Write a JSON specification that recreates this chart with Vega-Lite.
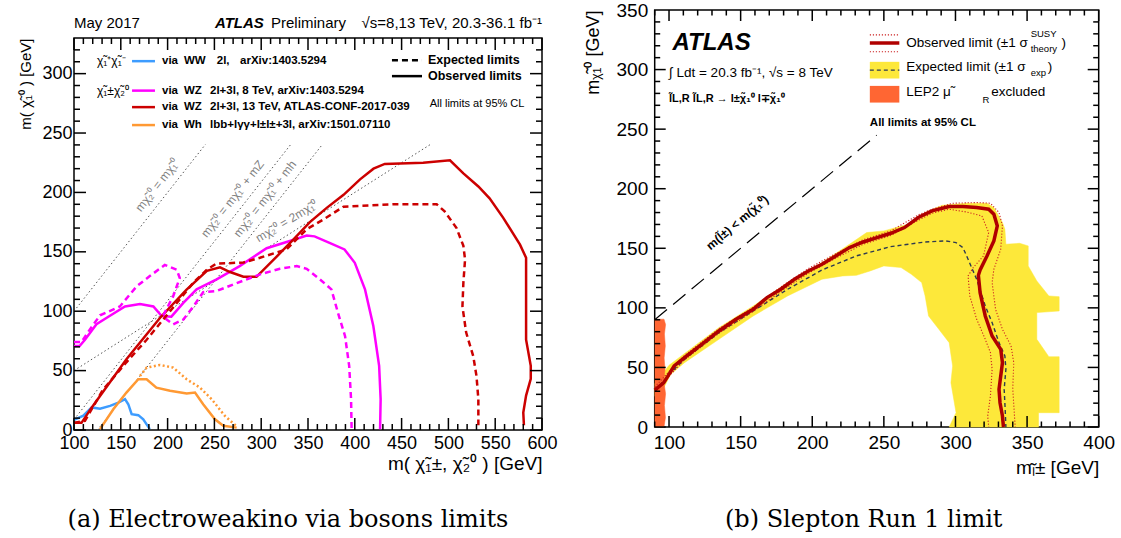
{
  "$schema": "https://vega.github.io/schema/vega-lite/v6.json",
  "background": "white",
  "padding": {"left": 18, "top": 0, "right": 0, "bottom": 0},
  "spacing": 25.7,
  "config": {
    "view": {"stroke": "black", "strokeWidth": 1.5},
    "axis": {
      "domain": false, "ticks": false, "grid": false,
      "labelColor": "black", "labelFont": "Liberation Sans", "titleFont": "Liberation Sans",
      "titleColor": "black", "titleFontWeight": "normal", "labelFlush": false, "labelOverlap": false
    },
    "text": {"font": "Liberation Sans", "color": "black"}
  },
  "datasets": {
    "header": [
      {"t": "May 2017", "x": 100, "y": 0.286, "part": "date"},
      {"t": "ATLAS", "x": 250.6, "y": 0.286, "part": "experiment"},
      {"t": "Preliminary", "x": 310.5, "y": 0.286, "part": "status"},
      {"t": "√s=8,13 TeV, 20.3-36.1 fb⁻¹", "x": 600, "y": 0.286, "part": "energy"}
    ],
    "ewTicksV": [
      {"x":100,"y":0,"y2":10.1},{"x":110,"y":0,"y2":5.05},{"x":120,"y":0,"y2":5.05},{"x":130,"y":0,"y2":5.05},{"x":140,"y":0,"y2":5.05},
      {"x":150,"y":0,"y2":10.1},{"x":160,"y":0,"y2":5.05},{"x":170,"y":0,"y2":5.05},{"x":180,"y":0,"y2":5.05},{"x":190,"y":0,"y2":5.05},
      {"x":200,"y":0,"y2":10.1},{"x":210,"y":0,"y2":5.05},{"x":220,"y":0,"y2":5.05},{"x":230,"y":0,"y2":5.05},{"x":240,"y":0,"y2":5.05},
      {"x":250,"y":0,"y2":10.1},{"x":260,"y":0,"y2":5.05},{"x":270,"y":0,"y2":5.05},{"x":280,"y":0,"y2":5.05},{"x":290,"y":0,"y2":5.05},
      {"x":300,"y":0,"y2":10.1},{"x":310,"y":0,"y2":5.05},{"x":320,"y":0,"y2":5.05},{"x":330,"y":0,"y2":5.05},{"x":340,"y":0,"y2":5.05},
      {"x":350,"y":0,"y2":10.1},{"x":360,"y":0,"y2":5.05},{"x":370,"y":0,"y2":5.05},{"x":380,"y":0,"y2":5.05},{"x":390,"y":0,"y2":5.05},
      {"x":400,"y":0,"y2":10.1},{"x":410,"y":0,"y2":5.05},{"x":420,"y":0,"y2":5.05},{"x":430,"y":0,"y2":5.05},{"x":440,"y":0,"y2":5.05},
      {"x":450,"y":0,"y2":10.1},{"x":460,"y":0,"y2":5.05},{"x":470,"y":0,"y2":5.05},{"x":480,"y":0,"y2":5.05},{"x":490,"y":0,"y2":5.05},
      {"x":500,"y":0,"y2":10.1},{"x":510,"y":0,"y2":5.05},{"x":520,"y":0,"y2":5.05},{"x":530,"y":0,"y2":5.05},{"x":540,"y":0,"y2":5.05},
      {"x":550,"y":0,"y2":10.1},{"x":560,"y":0,"y2":5.05},{"x":570,"y":0,"y2":5.05},{"x":580,"y":0,"y2":5.05},{"x":590,"y":0,"y2":5.05},
      {"x":600,"y":0,"y2":10.1},
      {"x":100,"y":330,"y2":319.9},{"x":110,"y":330,"y2":324.95},{"x":120,"y":330,"y2":324.95},{"x":130,"y":330,"y2":324.95},{"x":140,"y":330,"y2":324.95},
      {"x":150,"y":330,"y2":319.9},{"x":160,"y":330,"y2":324.95},{"x":170,"y":330,"y2":324.95},{"x":180,"y":330,"y2":324.95},{"x":190,"y":330,"y2":324.95},
      {"x":200,"y":330,"y2":319.9},{"x":210,"y":330,"y2":324.95},{"x":220,"y":330,"y2":324.95},{"x":230,"y":330,"y2":324.95},{"x":240,"y":330,"y2":324.95},
      {"x":250,"y":330,"y2":319.9},{"x":260,"y":330,"y2":324.95},{"x":270,"y":330,"y2":324.95},{"x":280,"y":330,"y2":324.95},{"x":290,"y":330,"y2":324.95},
      {"x":300,"y":330,"y2":319.9},{"x":310,"y":330,"y2":324.95},{"x":320,"y":330,"y2":324.95},{"x":330,"y":330,"y2":324.95},{"x":340,"y":330,"y2":324.95},
      {"x":350,"y":330,"y2":319.9},{"x":360,"y":330,"y2":324.95},{"x":370,"y":330,"y2":324.95},{"x":380,"y":330,"y2":324.95},{"x":390,"y":330,"y2":324.95},
      {"x":400,"y":330,"y2":319.9},{"x":410,"y":330,"y2":324.95},{"x":420,"y":330,"y2":324.95},{"x":430,"y":330,"y2":324.95},{"x":440,"y":330,"y2":324.95},
      {"x":450,"y":330,"y2":319.9},{"x":460,"y":330,"y2":324.95},{"x":470,"y":330,"y2":324.95},{"x":480,"y":330,"y2":324.95},{"x":490,"y":330,"y2":324.95},
      {"x":500,"y":330,"y2":319.9},{"x":510,"y":330,"y2":324.95},{"x":520,"y":330,"y2":324.95},{"x":530,"y":330,"y2":324.95},{"x":540,"y":330,"y2":324.95},
      {"x":550,"y":330,"y2":319.9},{"x":560,"y":330,"y2":324.95},{"x":570,"y":330,"y2":324.95},{"x":580,"y":330,"y2":324.95},{"x":590,"y":330,"y2":324.95},
      {"x":600,"y":330,"y2":319.9}
    ],
    "ewTicksH": [
      {"y":0,"x":100,"x2":112.8},{"y":10,"x":100,"x2":106.4},{"y":20,"x":100,"x2":106.4},{"y":30,"x":100,"x2":106.4},{"y":40,"x":100,"x2":106.4},
      {"y":50,"x":100,"x2":112.8},{"y":60,"x":100,"x2":106.4},{"y":70,"x":100,"x2":106.4},{"y":80,"x":100,"x2":106.4},{"y":90,"x":100,"x2":106.4},
      {"y":100,"x":100,"x2":112.8},{"y":110,"x":100,"x2":106.4},{"y":120,"x":100,"x2":106.4},{"y":130,"x":100,"x2":106.4},{"y":140,"x":100,"x2":106.4},
      {"y":150,"x":100,"x2":112.8},{"y":160,"x":100,"x2":106.4},{"y":170,"x":100,"x2":106.4},{"y":180,"x":100,"x2":106.4},{"y":190,"x":100,"x2":106.4},
      {"y":200,"x":100,"x2":112.8},{"y":210,"x":100,"x2":106.4},{"y":220,"x":100,"x2":106.4},{"y":230,"x":100,"x2":106.4},{"y":240,"x":100,"x2":106.4},
      {"y":250,"x":100,"x2":112.8},{"y":260,"x":100,"x2":106.4},{"y":270,"x":100,"x2":106.4},{"y":280,"x":100,"x2":106.4},{"y":290,"x":100,"x2":106.4},
      {"y":300,"x":100,"x2":112.8},{"y":310,"x":100,"x2":106.4},{"y":320,"x":100,"x2":106.4},
      {"y":0,"x":600,"x2":587.2},{"y":10,"x":600,"x2":593.6},{"y":20,"x":600,"x2":593.6},{"y":30,"x":600,"x2":593.6},{"y":40,"x":600,"x2":593.6},
      {"y":50,"x":600,"x2":587.2},{"y":60,"x":600,"x2":593.6},{"y":70,"x":600,"x2":593.6},{"y":80,"x":600,"x2":593.6},{"y":90,"x":600,"x2":593.6},
      {"y":100,"x":600,"x2":587.2},{"y":110,"x":600,"x2":593.6},{"y":120,"x":600,"x2":593.6},{"y":130,"x":600,"x2":593.6},{"y":140,"x":600,"x2":593.6},
      {"y":150,"x":600,"x2":587.2},{"y":160,"x":600,"x2":593.6},{"y":170,"x":600,"x2":593.6},{"y":180,"x":600,"x2":593.6},{"y":190,"x":600,"x2":593.6},
      {"y":200,"x":600,"x2":587.2},{"y":210,"x":600,"x2":593.6},{"y":220,"x":600,"x2":593.6},{"y":230,"x":600,"x2":593.6},{"y":240,"x":600,"x2":593.6},
      {"y":250,"x":600,"x2":587.2},{"y":260,"x":600,"x2":593.6},{"y":270,"x":600,"x2":593.6},{"y":280,"x":600,"x2":593.6},{"y":290,"x":600,"x2":593.6},
      {"y":300,"x":600,"x2":587.2},{"y":310,"x":600,"x2":593.6},{"y":320,"x":600,"x2":593.6}
    ],
    "slTicksV": [
      {"x":90,"y":0,"y2":4.62},{"x":100,"y":0,"y2":9.23},{"x":110,"y":0,"y2":4.62},{"x":120,"y":0,"y2":4.62},{"x":130,"y":0,"y2":4.62},{"x":140,"y":0,"y2":4.62},
      {"x":150,"y":0,"y2":9.23},{"x":160,"y":0,"y2":4.62},{"x":170,"y":0,"y2":4.62},{"x":180,"y":0,"y2":4.62},{"x":190,"y":0,"y2":4.62},
      {"x":200,"y":0,"y2":9.23},{"x":210,"y":0,"y2":4.62},{"x":220,"y":0,"y2":4.62},{"x":230,"y":0,"y2":4.62},{"x":240,"y":0,"y2":4.62},
      {"x":250,"y":0,"y2":9.23},{"x":260,"y":0,"y2":4.62},{"x":270,"y":0,"y2":4.62},{"x":280,"y":0,"y2":4.62},{"x":290,"y":0,"y2":4.62},
      {"x":300,"y":0,"y2":9.23},{"x":310,"y":0,"y2":4.62},{"x":320,"y":0,"y2":4.62},{"x":330,"y":0,"y2":4.62},{"x":340,"y":0,"y2":4.62},
      {"x":350,"y":0,"y2":9.23},{"x":360,"y":0,"y2":4.62},{"x":370,"y":0,"y2":4.62},{"x":380,"y":0,"y2":4.62},{"x":390,"y":0,"y2":4.62},
      {"x":400,"y":0,"y2":9.23},
      {"x":90,"y":350,"y2":345.38},{"x":100,"y":350,"y2":340.77},{"x":110,"y":350,"y2":345.38},{"x":120,"y":350,"y2":345.38},{"x":130,"y":350,"y2":345.38},{"x":140,"y":350,"y2":345.38},
      {"x":150,"y":350,"y2":340.77},{"x":160,"y":350,"y2":345.38},{"x":170,"y":350,"y2":345.38},{"x":180,"y":350,"y2":345.38},{"x":190,"y":350,"y2":345.38},
      {"x":200,"y":350,"y2":340.77},{"x":210,"y":350,"y2":345.38},{"x":220,"y":350,"y2":345.38},{"x":230,"y":350,"y2":345.38},{"x":240,"y":350,"y2":345.38},
      {"x":250,"y":350,"y2":340.77},{"x":260,"y":350,"y2":345.38},{"x":270,"y":350,"y2":345.38},{"x":280,"y":350,"y2":345.38},{"x":290,"y":350,"y2":345.38},
      {"x":300,"y":350,"y2":340.77},{"x":310,"y":350,"y2":345.38},{"x":320,"y":350,"y2":345.38},{"x":330,"y":350,"y2":345.38},{"x":340,"y":350,"y2":345.38},
      {"x":350,"y":350,"y2":340.77},{"x":360,"y":350,"y2":345.38},{"x":370,"y":350,"y2":345.38},{"x":380,"y":350,"y2":345.38},{"x":390,"y":350,"y2":345.38},
      {"x":400,"y":350,"y2":340.77}
    ],
    "slTicksH": [
      {"y":0,"x":90,"x2":97.68},{"y":10,"x":90,"x2":93.84},{"y":20,"x":90,"x2":93.84},{"y":30,"x":90,"x2":93.84},{"y":40,"x":90,"x2":93.84},
      {"y":50,"x":90,"x2":97.68},{"y":60,"x":90,"x2":93.84},{"y":70,"x":90,"x2":93.84},{"y":80,"x":90,"x2":93.84},{"y":90,"x":90,"x2":93.84},
      {"y":100,"x":90,"x2":97.68},{"y":110,"x":90,"x2":93.84},{"y":120,"x":90,"x2":93.84},{"y":130,"x":90,"x2":93.84},{"y":140,"x":90,"x2":93.84},
      {"y":150,"x":90,"x2":97.68},{"y":160,"x":90,"x2":93.84},{"y":170,"x":90,"x2":93.84},{"y":180,"x":90,"x2":93.84},{"y":190,"x":90,"x2":93.84},
      {"y":200,"x":90,"x2":97.68},{"y":210,"x":90,"x2":93.84},{"y":220,"x":90,"x2":93.84},{"y":230,"x":90,"x2":93.84},{"y":240,"x":90,"x2":93.84},
      {"y":250,"x":90,"x2":97.68},{"y":260,"x":90,"x2":93.84},{"y":270,"x":90,"x2":93.84},{"y":280,"x":90,"x2":93.84},{"y":290,"x":90,"x2":93.84},
      {"y":300,"x":90,"x2":97.68},{"y":310,"x":90,"x2":93.84},{"y":320,"x":90,"x2":93.84},{"y":330,"x":90,"x2":93.84},{"y":340,"x":90,"x2":93.84},
      {"y":0,"x":400,"x2":392.32},{"y":10,"x":400,"x2":396.16},{"y":20,"x":400,"x2":396.16},{"y":30,"x":400,"x2":396.16},{"y":40,"x":400,"x2":396.16},
      {"y":50,"x":400,"x2":392.32},{"y":60,"x":400,"x2":396.16},{"y":70,"x":400,"x2":396.16},{"y":80,"x":400,"x2":396.16},{"y":90,"x":400,"x2":396.16},
      {"y":100,"x":400,"x2":392.32},{"y":110,"x":400,"x2":396.16},{"y":120,"x":400,"x2":396.16},{"y":130,"x":400,"x2":396.16},{"y":140,"x":400,"x2":396.16},
      {"y":150,"x":400,"x2":392.32},{"y":160,"x":400,"x2":396.16},{"y":170,"x":400,"x2":396.16},{"y":180,"x":400,"x2":396.16},{"y":190,"x":400,"x2":396.16},
      {"y":200,"x":400,"x2":392.32},{"y":210,"x":400,"x2":396.16},{"y":220,"x":400,"x2":396.16},{"y":230,"x":400,"x2":396.16},{"y":240,"x":400,"x2":396.16},
      {"y":250,"x":400,"x2":392.32},{"y":260,"x":400,"x2":396.16},{"y":270,"x":400,"x2":396.16},{"y":280,"x":400,"x2":396.16},{"y":290,"x":400,"x2":396.16},
      {"y":300,"x":400,"x2":392.32},{"y":310,"x":400,"x2":396.16},{"y":320,"x":400,"x2":396.16},{"y":330,"x":400,"x2":396.16},{"y":340,"x":400,"x2":396.16}
    ],
    "ew": [
      {"s": "obsWW", "x": 100, "y": 8.5}, {"s": "obsWW", "x": 110, "y": 12}, {"s": "obsWW", "x": 118.9, "y": 19},
      {"s": "obsWW", "x": 127.8, "y": 18}, {"s": "obsWW", "x": 138.5, "y": 20.3}, {"s": "obsWW", "x": 147.4, "y": 23},
      {"s": "obsWW", "x": 154.5, "y": 26}, {"s": "obsWW", "x": 158, "y": 21.7}, {"s": "obsWW", "x": 161.6, "y": 13.3},
      {"s": "obsWW", "x": 168.7, "y": 12.5}, {"s": "obsWW", "x": 174, "y": 9}, {"s": "obsWW", "x": 181, "y": 0.7},

      {"s": "obs8", "x": 100, "y": 70.7}, {"s": "obs8", "x": 106, "y": 70.7}, {"s": "obs8", "x": 111.7, "y": 76},
      {"s": "obs8", "x": 124, "y": 89}, {"s": "obs8", "x": 138, "y": 96}, {"s": "obs8", "x": 154.5, "y": 104},
      {"s": "obs8", "x": 170.5, "y": 106}, {"s": "obs8", "x": 184.8, "y": 104}, {"s": "obs8", "x": 193.7, "y": 96},
      {"s": "obs8", "x": 204, "y": 95.4}, {"s": "obs8", "x": 216.8, "y": 107}, {"s": "obs8", "x": 231, "y": 118.4},
      {"s": "obs8", "x": 252.4, "y": 126.8}, {"s": "obs8", "x": 277, "y": 138}, {"s": "obs8", "x": 305.8, "y": 153},
      {"s": "obs8", "x": 334, "y": 160}, {"s": "obs8", "x": 348.6, "y": 163.7}, {"s": "obs8", "x": 357, "y": 163},
      {"s": "obs8", "x": 373, "y": 157.6}, {"s": "obs8", "x": 389, "y": 152}, {"s": "obs8", "x": 400, "y": 140.8},
      {"s": "obs8", "x": 410.9, "y": 118.4}, {"s": "obs8", "x": 419.8, "y": 87.5}, {"s": "obs8", "x": 426, "y": 54},
      {"s": "obs8", "x": 427.6, "y": 26}, {"s": "obs8", "x": 427, "y": 0.7},

      {"s": "exp8", "x": 100, "y": 74}, {"s": "exp8", "x": 108, "y": 74}, {"s": "exp8", "x": 117, "y": 84.7},
      {"s": "exp8", "x": 127.8, "y": 96.5}, {"s": "exp8", "x": 149, "y": 104}, {"s": "exp8", "x": 167, "y": 121},
      {"s": "exp8", "x": 181, "y": 129.6}, {"s": "exp8", "x": 197, "y": 139}, {"s": "exp8", "x": 209.7, "y": 135},
      {"s": "exp8", "x": 213, "y": 128}, {"s": "exp8", "x": 206, "y": 112.7}, {"s": "exp8", "x": 195, "y": 96},
      {"s": "exp8", "x": 199, "y": 93}, {"s": "exp8", "x": 206, "y": 89}, {"s": "exp8", "x": 216.8, "y": 93},
      {"s": "exp8", "x": 227.5, "y": 104}, {"s": "exp8", "x": 238, "y": 116}, {"s": "exp8", "x": 252.4, "y": 117},
      {"s": "exp8", "x": 270, "y": 122.5}, {"s": "exp8", "x": 298.7, "y": 131}, {"s": "exp8", "x": 320, "y": 135.7},
      {"s": "exp8", "x": 338, "y": 138}, {"s": "exp8", "x": 348.6, "y": 135.7}, {"s": "exp8", "x": 362.8, "y": 126.8},
      {"s": "exp8", "x": 375, "y": 118.4}, {"s": "exp8", "x": 382, "y": 98.7}, {"s": "exp8", "x": 389.6, "y": 79},
      {"s": "exp8", "x": 394, "y": 54}, {"s": "exp8", "x": 396, "y": 26}, {"s": "exp8", "x": 396.6, "y": 0.7},

      {"s": "obs13", "x": 100, "y": 6}, {"s": "obs13", "x": 108, "y": 6}, {"s": "obs13", "x": 119, "y": 19},
      {"s": "obs13", "x": 156, "y": 59.5}, {"s": "obs13", "x": 192, "y": 94.5}, {"s": "obs13", "x": 220, "y": 118},
      {"s": "obs13", "x": 242, "y": 134}, {"s": "obs13", "x": 256, "y": 137}, {"s": "obs13", "x": 266.7, "y": 133},
      {"s": "obs13", "x": 281, "y": 129}, {"s": "obs13", "x": 295, "y": 129}, {"s": "obs13", "x": 316.5, "y": 146},
      {"s": "obs13", "x": 334, "y": 160}, {"s": "obs13", "x": 352, "y": 175}, {"s": "obs13", "x": 370, "y": 187},
      {"s": "obs13", "x": 388, "y": 198}, {"s": "obs13", "x": 405.6, "y": 211}, {"s": "obs13", "x": 420, "y": 220},
      {"s": "obs13", "x": 432, "y": 224}, {"s": "obs13", "x": 473, "y": 225}, {"s": "obs13", "x": 501.7, "y": 227},
      {"s": "obs13", "x": 516, "y": 216}, {"s": "obs13", "x": 532, "y": 205}, {"s": "obs13", "x": 544, "y": 195},
      {"s": "obs13", "x": 558.6, "y": 178.6}, {"s": "obs13", "x": 576.5, "y": 156}, {"s": "obs13", "x": 583, "y": 145},
      {"s": "obs13", "x": 583, "y": 110}, {"s": "obs13", "x": 583, "y": 76}, {"s": "obs13", "x": 588, "y": 54},
      {"s": "obs13", "x": 588, "y": 43}, {"s": "obs13", "x": 583, "y": 29}, {"s": "obs13", "x": 580, "y": 14.7},
      {"s": "obs13", "x": 580.7, "y": 4},

      {"s": "exp13", "x": 100, "y": 6}, {"s": "exp13", "x": 111.7, "y": 7.7}, {"s": "exp13", "x": 131, "y": 34},
      {"s": "exp13", "x": 156, "y": 57}, {"s": "exp13", "x": 177.6, "y": 76}, {"s": "exp13", "x": 202.6, "y": 100},
      {"s": "exp13", "x": 227.5, "y": 124}, {"s": "exp13", "x": 242, "y": 135}, {"s": "exp13", "x": 252, "y": 140},
      {"s": "exp13", "x": 281, "y": 141}, {"s": "exp13", "x": 298.7, "y": 145}, {"s": "exp13", "x": 327, "y": 152},
      {"s": "exp13", "x": 348.6, "y": 169}, {"s": "exp13", "x": 366, "y": 177}, {"s": "exp13", "x": 388, "y": 188},
      {"s": "exp13", "x": 441, "y": 190}, {"s": "exp13", "x": 487.5, "y": 190}, {"s": "exp13", "x": 496, "y": 184},
      {"s": "exp13", "x": 508.7, "y": 170}, {"s": "exp13", "x": 516, "y": 155}, {"s": "exp13", "x": 517.8, "y": 143.6},
      {"s": "exp13", "x": 516, "y": 124}, {"s": "exp13", "x": 515, "y": 104}, {"s": "exp13", "x": 519, "y": 82},
      {"s": "exp13", "x": 526.6, "y": 62}, {"s": "exp13", "x": 530, "y": 45.5}, {"s": "exp13", "x": 532, "y": 26},
      {"s": "exp13", "x": 532, "y": 4},

      {"s": "obsWh", "x": 127.8, "y": 0.7}, {"s": "obsWh", "x": 142, "y": 17.5}, {"s": "obsWh", "x": 156, "y": 31.5},
      {"s": "obsWh", "x": 168.7, "y": 42.7}, {"s": "obsWh", "x": 177.6, "y": 42.7}, {"s": "obsWh", "x": 188, "y": 35.7},
      {"s": "obsWh", "x": 202.6, "y": 33}, {"s": "obsWh", "x": 220.4, "y": 30.7}, {"s": "obsWh", "x": 229.3, "y": 31.5},
      {"s": "obsWh", "x": 238, "y": 21.7}, {"s": "obsWh", "x": 250.6, "y": 9}, {"s": "obsWh", "x": 259.5, "y": 3.5},
      {"s": "obsWh", "x": 273.8, "y": 2},

      {"s": "expWh", "x": 170.5, "y": 45.5}, {"s": "expWh", "x": 177.6, "y": 52.5}, {"s": "expWh", "x": 191.9, "y": 54.8},
      {"s": "expWh", "x": 206, "y": 52.5}, {"s": "expWh", "x": 220.4, "y": 42.7}, {"s": "expWh", "x": 234.6, "y": 35.7},
      {"s": "expWh", "x": 247, "y": 26}, {"s": "expWh", "x": 261, "y": 12}, {"s": "expWh", "x": 273.8, "y": 3}
    ],
    "ewKin": [
      {"k": "equal", "x": 100, "y": 100}, {"k": "equal", "x": 240.5, "y": 240.5},
      {"k": "Z", "x": 100, "y": 8.8}, {"k": "Z", "x": 331.5, "y": 240.3},
      {"k": "h", "x": 125, "y": 0}, {"k": "h", "x": 365, "y": 240},
      {"k": "half", "x": 100, "y": 50}, {"k": "half", "x": 481, "y": 240.5}
    ],
    "ewKinLbl": [
      {"k": "equal", "t": "mχ̃₂⁰ = mχ̃₁⁰", "x": 189, "y": 206},
      {"k": "Z", "t": "mχ̃₂⁰ = mχ̃₁⁰ + mZ", "x": 269.3, "y": 194.7},
      {"k": "h", "t": "mχ̃₂⁰ = mχ̃₁⁰ + mh", "x": 304, "y": 194.7},
      {"k": "half", "t": "mχ̃₂⁰ = 2mχ̃₁⁰", "x": 327.2, "y": 175.8}
    ],
    "ewLegLines": [
      {"s": "obsWW", "x": 162, "x2": 186.5, "y": 310.5},
      {"s": "obs8", "x": 162, "x2": 186.5, "y": 285.7},
      {"s": "obs13", "x": 162, "x2": 186.5, "y": 271.8},
      {"s": "obsWh", "x": 162, "x2": 186.5, "y": 256.7}
    ],
    "ewLegStyle": [
      {"kind": "expected", "x": 439.7, "x2": 471.8, "y": 311.3},
      {"kind": "observed", "x": 439.7, "x2": 471.8, "y": 297.9}
    ],
    "ewLegVia": [
      {"t": "via", "x": 194, "y": 310.5}, {"t": "WW", "x": 217.5, "y": 310.5},
      {"t": "2l,", "x": 252.5, "y": 310.5}, {"t": "arXiv:1403.5294", "x": 277.4, "y": 310.5},
      {"t": "via", "x": 194, "y": 285.3}, {"t": "WZ", "x": 217.5, "y": 285.3},
      {"t": "2l+3l, 8 TeV, arXiv:1403.5294", "x": 245.3, "y": 285.3},
      {"t": "via", "x": 194, "y": 271.8}, {"t": "WZ", "x": 217.5, "y": 271.8},
      {"t": "2l+3l, 13 TeV, ATLAS-CONF-2017-039", "x": 245.3, "y": 271.8},
      {"t": "via", "x": 194, "y": 256.7}, {"t": "Wh", "x": 217.5, "y": 256.7},
      {"t": "lbb+lγγ+l±l±+3l, arXiv:1501.07110", "x": 245.3, "y": 256.7}
    ],
    "ewLegHead": [
      {"t": "Expected limits", "x": 478.2, "y": 311.3},
      {"t": "Observed limits", "x": 478.2, "y": 297.9}
    ],
    "ewLegPlain": [
      {"t": "χ̃₁⁺χ̃₁⁻", "x": 124.6, "y": 310.5, "size": "pair"},
      {"t": "χ̃₁±χ̃₂⁰", "x": 124.6, "y": 285.3, "size": "pair"},
      {"t": "All limits at 95% CL", "x": 480, "y": 274.4, "size": "note"}
    ],
    "sl": [
      {"s": "obs", "x": 90, "y": 31}, {"s": "obs", "x": 96.4, "y": 37.2}, {"s": "obs", "x": 100.7, "y": 45.6},
      {"s": "obs", "x": 103.6, "y": 51.2}, {"s": "obs", "x": 110.8, "y": 58.2}, {"s": "obs", "x": 122.8, "y": 69.4},
      {"s": "obs", "x": 134.8, "y": 80.6}, {"s": "obs", "x": 146.8, "y": 90.4}, {"s": "obs", "x": 158.8, "y": 98.8},
      {"s": "obs", "x": 168.4, "y": 108.6}, {"s": "obs", "x": 178, "y": 115.6}, {"s": "obs", "x": 187.6, "y": 124},
      {"s": "obs", "x": 197.2, "y": 131}, {"s": "obs", "x": 206.8, "y": 136.6}, {"s": "obs", "x": 216.4, "y": 143.6},
      {"s": "obs", "x": 226, "y": 150.6}, {"s": "obs", "x": 235.6, "y": 155.3}, {"s": "obs", "x": 245.2, "y": 159},
      {"s": "obs", "x": 254.8, "y": 162.6}, {"s": "obs", "x": 264.4, "y": 167.4}, {"s": "obs", "x": 274, "y": 175.8},
      {"s": "obs", "x": 283.6, "y": 181.4}, {"s": "obs", "x": 295.6, "y": 185}, {"s": "obs", "x": 305.2, "y": 185},
      {"s": "obs", "x": 314.8, "y": 184.2}, {"s": "obs", "x": 323.2, "y": 182.8}, {"s": "obs", "x": 326.8, "y": 178.6},
      {"s": "obs", "x": 329.2, "y": 168.8}, {"s": "obs", "x": 326.8, "y": 156.2}, {"s": "obs", "x": 322, "y": 143.6},
      {"s": "obs", "x": 317.2, "y": 131.8}, {"s": "obs", "x": 316, "y": 127.3}, {"s": "obs", "x": 317.2, "y": 112.8},
      {"s": "obs", "x": 320.8, "y": 93.2}, {"s": "obs", "x": 325.6, "y": 76.4}, {"s": "obs", "x": 331.6, "y": 65.2},
      {"s": "obs", "x": 332.8, "y": 54}, {"s": "obs", "x": 331.6, "y": 42.8}, {"s": "obs", "x": 330.4, "y": 31.6},
      {"s": "obs", "x": 331.1, "y": 20.4}, {"s": "obs", "x": 332.8, "y": 9.2}, {"s": "obs", "x": 333.5, "y": 0},

      {"s": "exp", "x": 90.4, "y": 30.2}, {"s": "exp", "x": 100, "y": 44.2}, {"s": "exp", "x": 110.8, "y": 56.8},
      {"s": "exp", "x": 134.8, "y": 79.2}, {"s": "exp", "x": 158.8, "y": 97.4}, {"s": "exp", "x": 182.8, "y": 115.6},
      {"s": "exp", "x": 206.8, "y": 131.8}, {"s": "exp", "x": 230.8, "y": 143.6}, {"s": "exp", "x": 254.8, "y": 151.4},
      {"s": "exp", "x": 278.8, "y": 155.3}, {"s": "exp", "x": 293.2, "y": 156.2}, {"s": "exp", "x": 300.4, "y": 154.8},
      {"s": "exp", "x": 305.2, "y": 150.6}, {"s": "exp", "x": 308.8, "y": 140.8}, {"s": "exp", "x": 314.8, "y": 124},
      {"s": "exp", "x": 320.8, "y": 101.6}, {"s": "exp", "x": 325.6, "y": 87.6}, {"s": "exp", "x": 330.4, "y": 70.8},
      {"s": "exp", "x": 334.5, "y": 59.6}, {"s": "exp", "x": 335.2, "y": 48.4}, {"s": "exp", "x": 334, "y": 31.6},
      {"s": "exp", "x": 334.7, "y": 14.8}, {"s": "exp", "x": 335.2, "y": 0},

      {"s": "thUp", "x": 90, "y": 33.5}, {"s": "thUp", "x": 100.7, "y": 47.5}, {"s": "thUp", "x": 110.8, "y": 60},
      {"s": "thUp", "x": 134.8, "y": 82.5}, {"s": "thUp", "x": 158.8, "y": 100.5}, {"s": "thUp", "x": 178, "y": 117.5},
      {"s": "thUp", "x": 197.2, "y": 133}, {"s": "thUp", "x": 216.4, "y": 145.5}, {"s": "thUp", "x": 235.6, "y": 157.2},
      {"s": "thUp", "x": 254.8, "y": 164.5}, {"s": "thUp", "x": 274, "y": 178}, {"s": "thUp", "x": 283.6, "y": 182.8},
      {"s": "thUp", "x": 298, "y": 187.8}, {"s": "thUp", "x": 314.8, "y": 188.4}, {"s": "thUp", "x": 324.4, "y": 187.8},
      {"s": "thUp", "x": 330.4, "y": 180}, {"s": "thUp", "x": 332.8, "y": 168.8}, {"s": "thUp", "x": 331.6, "y": 149.2},
      {"s": "thUp", "x": 326.8, "y": 132.4}, {"s": "thUp", "x": 325.6, "y": 121.2}, {"s": "thUp", "x": 328, "y": 98.8},
      {"s": "thUp", "x": 332.8, "y": 82}, {"s": "thUp", "x": 338.8, "y": 68}, {"s": "thUp", "x": 340.7, "y": 54},
      {"s": "thUp", "x": 340, "y": 31.6}, {"s": "thUp", "x": 341.2, "y": 9.2}, {"s": "thUp", "x": 341.7, "y": 0},

      {"s": "thDn", "x": 90, "y": 29.5}, {"s": "thDn", "x": 100.7, "y": 43.5}, {"s": "thDn", "x": 110.8, "y": 56.4},
      {"s": "thDn", "x": 134.8, "y": 78.7}, {"s": "thDn", "x": 158.8, "y": 97}, {"s": "thDn", "x": 178, "y": 113.7},
      {"s": "thDn", "x": 197.2, "y": 129}, {"s": "thDn", "x": 216.4, "y": 141.7}, {"s": "thDn", "x": 235.6, "y": 153.4},
      {"s": "thDn", "x": 254.8, "y": 160.7}, {"s": "thDn", "x": 274, "y": 173.5}, {"s": "thDn", "x": 283.6, "y": 179.4},
      {"s": "thDn", "x": 295.6, "y": 182.8}, {"s": "thDn", "x": 307.6, "y": 180.5}, {"s": "thDn", "x": 318.4, "y": 177.2},
      {"s": "thDn", "x": 323.2, "y": 163.2}, {"s": "thDn", "x": 319.6, "y": 143.6}, {"s": "thDn", "x": 312.4, "y": 133.8},
      {"s": "thDn", "x": 308.8, "y": 126.8}, {"s": "thDn", "x": 310, "y": 110}, {"s": "thDn", "x": 314.8, "y": 90.4},
      {"s": "thDn", "x": 320.8, "y": 73.6}, {"s": "thDn", "x": 324.4, "y": 62.4}, {"s": "thDn", "x": 325.6, "y": 48.4},
      {"s": "thDn", "x": 324.4, "y": 26}, {"s": "thDn", "x": 322.5, "y": 9.2}, {"s": "thDn", "x": 323.2, "y": 0},

      {"s": "kin", "x": 90, "y": 90}, {"s": "kin", "x": 245, "y": 245}
    ],
    "slRegions": [
      {"s": "band", "x": 90, "y": 36}, {"s": "band", "x": 100, "y": 51.8}, {"s": "band", "x": 134.8, "y": 83.4},
      {"s": "band", "x": 158.8, "y": 101.6}, {"s": "band", "x": 182.8, "y": 121.2}, {"s": "band", "x": 206.8, "y": 138},
      {"s": "band", "x": 226, "y": 153.4}, {"s": "band", "x": 238, "y": 163.2}, {"s": "band", "x": 250, "y": 164.6},
      {"s": "band", "x": 266.8, "y": 170.2}, {"s": "band", "x": 278.8, "y": 180}, {"s": "band", "x": 290.8, "y": 186.1},
      {"s": "band", "x": 307.6, "y": 187.8}, {"s": "band", "x": 322, "y": 187.8}, {"s": "band", "x": 326.8, "y": 184.2},
      {"s": "band", "x": 332.8, "y": 171.6}, {"s": "band", "x": 334.5, "y": 166}, {"s": "band", "x": 335.2, "y": 153.4},
      {"s": "band", "x": 344.8, "y": 154.2}, {"s": "band", "x": 350.8, "y": 152}, {"s": "band", "x": 350.8, "y": 135.2},
      {"s": "band", "x": 356.8, "y": 122.6}, {"s": "band", "x": 365.2, "y": 110}, {"s": "band", "x": 372.4, "y": 109.4},
      {"s": "band", "x": 372.4, "y": 97.4}, {"s": "band", "x": 356.8, "y": 96}, {"s": "band", "x": 356.8, "y": 73.6},
      {"s": "band", "x": 365.2, "y": 59}, {"s": "band", "x": 372.4, "y": 59}, {"s": "band", "x": 372.4, "y": 12},
      {"s": "band", "x": 358, "y": 12}, {"s": "band", "x": 358, "y": 0}, {"s": "band", "x": 295.6, "y": 0},
      {"s": "band", "x": 300.4, "y": 12}, {"s": "band", "x": 296.8, "y": 37.2}, {"s": "band", "x": 298, "y": 51.2},
      {"s": "band", "x": 295.6, "y": 70.8}, {"s": "band", "x": 288.4, "y": 82}, {"s": "band", "x": 281.2, "y": 93.2},
      {"s": "band", "x": 278.8, "y": 110}, {"s": "band", "x": 276.4, "y": 121.2}, {"s": "band", "x": 269.2, "y": 128.2},
      {"s": "band", "x": 262, "y": 133.8}, {"s": "band", "x": 250, "y": 135.2}, {"s": "band", "x": 240.4, "y": 131},
      {"s": "band", "x": 230.8, "y": 127.3}, {"s": "band", "x": 221.2, "y": 126.8}, {"s": "band", "x": 206.8, "y": 124},
      {"s": "band", "x": 182.8, "y": 110}, {"s": "band", "x": 158.8, "y": 93.2}, {"s": "band", "x": 134.8, "y": 73.6},
      {"s": "band", "x": 110.8, "y": 54}, {"s": "band", "x": 101.2, "y": 44.2}, {"s": "band", "x": 96.4, "y": 33},
      {"s": "band", "x": 90, "y": 26},

      {"s": "lep", "x": 90, "y": 0}, {"s": "lep", "x": 96.5, "y": 0}, {"s": "lep", "x": 97.5, "y": 8},
      {"s": "lep", "x": 96.8, "y": 18}, {"s": "lep", "x": 97.6, "y": 28}, {"s": "lep", "x": 96.4, "y": 38},
      {"s": "lep", "x": 97.2, "y": 48}, {"s": "lep", "x": 96.6, "y": 58}, {"s": "lep", "x": 97.4, "y": 68},
      {"s": "lep", "x": 96.8, "y": 78}, {"s": "lep", "x": 97.6, "y": 86}, {"s": "lep", "x": 96.5, "y": 90.5},
      {"s": "lep", "x": 90, "y": 90.5}
    ],
    "slLegBoxes": [
      {"s": "band", "x": 240.2, "x2": 260.8, "y": 292.5, "y2": 306.5},
      {"s": "lep", "x": 240.2, "x2": 260.8, "y": 272.3, "y2": 286.3}
    ],
    "slLegLines": [
      {"s": "obs", "x": 240.2, "x2": 260.8, "y": 322.3},
      {"s": "thUp", "x": 240.2, "x2": 260.8, "y": 329.1},
      {"s": "thDn", "x": 240.2, "x2": 260.8, "y": 315},
      {"s": "exp", "x": 240.2, "x2": 260.8, "y": 299.5}
    ],
    "slLegText": [
      {"t": "Observed limit (±1 σ", "x": 265.6, "y": 322.5},
      {"t": ")", "x": 374, "y": 322.5},
      {"t": "Expected limit (±1 σ", "x": 265.6, "y": 302},
      {"t": ")", "x": 364.5, "y": 302},
      {"t": "LEP2 μ̃", "x": 265.6, "y": 281.3},
      {"t": "excluded", "x": 325, "y": 281.3}
    ],
    "slLegScript": [
      {"t": "SUSY", "x": 352.5, "y": 329.7},
      {"t": "theory", "x": 352.5, "y": 317},
      {"t": "exp", "x": 352.5, "y": 297.5},
      {"t": "R", "x": 318.9, "y": 274.7}
    ]
  },
  "hconcat": [
    {
      "spacing": 0,
      "vconcat": [
        {
          "width": 468,
          "height": 25.5,
          "view": {"stroke": null},
          "data": {"name": "header"},
          "encoding": {
            "x": {"field": "x", "type": "quantitative", "scale": {"domain": [100, 600], "nice": false, "zero": false}, "axis": null},
            "y": {"field": "y", "type": "quantitative", "scale": {"domain": [0, 1], "nice": false, "zero": false}, "axis": null},
            "text": {"field": "t"}
          },
          "layer": [
            {"transform": [{"filter": "datum.part === 'date' || datum.part === 'status'"}],
             "mark": {"type": "text", "align": "left", "baseline": "alphabetic", "fontSize": 15}},
            {"transform": [{"filter": "datum.part === 'experiment'"}],
             "mark": {"type": "text", "align": "left", "baseline": "alphabetic", "fontSize": 15, "fontWeight": "bold", "fontStyle": "italic"}},
            {"transform": [{"filter": "datum.part === 'energy'"}],
             "mark": {"type": "text", "align": "right", "baseline": "alphabetic", "fontSize": 15}}
          ]
        },
        {
          "width": 468,
          "height": 392,
          "title": {"text": "(a) Electroweakino via bosons limits", "orient": "bottom", "anchor": "middle", "frame": "group",
                    "font": "DejaVu Serif", "fontSize": 24, "fontWeight": "normal", "color": "black", "offset": 35, "dx": -20},
          "encoding": {
            "x": {"field": "x", "type": "quantitative", "scale": {"domain": [100, 600], "nice": false, "zero": false},
                  "axis": {"orient": "bottom", "values": [100, 150, 200, 250, 300, 350, 400, 450, 500, 550, 600],
                           "labelPadding": 4, "labelFontSize": 18,
                           "title": "m( χ̃₁±, χ̃₂⁰ ) [GeV]", "titleFontSize": 19, "titleAnchor": "end", "titlePadding": 2}},
            "y": {"field": "y", "type": "quantitative", "scale": {"domain": [0, 330], "nice": false, "zero": false},
                  "axis": {"orient": "left", "values": [0, 50, 100, 150, 200, 250, 300],
                           "labelPadding": 2, "labelFontSize": 18,
                           "title": "m( χ̃₁⁰ ) [GeV]", "titleFontSize": 15, "titleAnchor": "end", "titlePadding": 8}}
          },
          "layer": [
            {"data": {"name": "ewKin"},
             "mark": {"type": "line", "color": "#555555", "strokeWidth": 1, "strokeDash": [1.5, 2.5]},
             "encoding": {"detail": {"field": "k"}, "order": {"value": null}}},
            {"data": {"name": "ewKinLbl"}, "transform": [{"filter": "datum.k !== 'half'"}],
             "mark": {"type": "text", "angle": -52, "fontSize": 12, "color": "#808080"},
             "encoding": {"text": {"field": "t"}}},
            {"data": {"name": "ewKinLbl"}, "transform": [{"filter": "datum.k === 'half'"}],
             "mark": {"type": "text", "angle": -31, "fontSize": 12, "color": "#808080"},
             "encoding": {"text": {"field": "t"}}},
            {"data": {"name": "ew"}, "transform": [{"filter": "indexof(datum.s, 'obs') === 0"}],
             "mark": {"type": "line", "strokeWidth": 2.5},
             "encoding": {
               "color": {"field": "s", "legend": null,
                         "scale": {"domain": ["obsWW", "obs8", "exp8", "obs13", "exp13", "obsWh", "expWh"],
                                   "range": ["#3d9cff", "#ff00ff", "#ff00ff", "#cc0000", "#cc0000", "#ff9933", "#ff9933"]}},
               "order": {"value": null}}},
            {"data": {"name": "ew"}, "transform": [{"filter": "datum.s === 'exp8' || datum.s === 'exp13'"}],
             "mark": {"type": "line", "strokeWidth": 2.5, "strokeDash": [6, 4]},
             "encoding": {"color": {"field": "s", "legend": null}, "order": {"value": null}}},
            {"data": {"name": "ew"}, "transform": [{"filter": "datum.s === 'expWh'"}],
             "mark": {"type": "line", "strokeWidth": 2.5, "strokeDash": [2, 2.5]},
             "encoding": {"color": {"field": "s", "legend": null}, "order": {"value": null}}},
            {"data": {"name": "ewLegLines"},
             "mark": {"type": "rule", "strokeWidth": 2.5},
             "encoding": {"x2": {"field": "x2"}, "color": {"field": "s", "legend": null}}},
            {"data": {"name": "ewLegStyle"}, "transform": [{"filter": "datum.kind === 'expected'"}],
             "mark": {"type": "rule", "strokeWidth": 2.5, "color": "black", "strokeDash": [6, 4]},
             "encoding": {"x2": {"field": "x2"}}},
            {"data": {"name": "ewLegStyle"}, "transform": [{"filter": "datum.kind === 'observed'"}],
             "mark": {"type": "rule", "strokeWidth": 2.5, "color": "black"},
             "encoding": {"x2": {"field": "x2"}}},
            {"data": {"name": "ewLegVia"},
             "mark": {"type": "text", "align": "left", "fontSize": 11.5, "fontWeight": "bold"},
             "encoding": {"text": {"field": "t"}}},
            {"data": {"name": "ewLegHead"},
             "mark": {"type": "text", "align": "left", "fontSize": 12.5, "fontWeight": "bold"},
             "encoding": {"text": {"field": "t"}}},
            {"data": {"name": "ewLegPlain"}, "transform": [{"filter": "datum.size === 'pair'"}],
             "mark": {"type": "text", "align": "left", "fontSize": 12},
             "encoding": {"text": {"field": "t"}}},
            {"data": {"name": "ewLegPlain"}, "transform": [{"filter": "datum.size === 'note'"}],
             "mark": {"type": "text", "align": "left", "fontSize": 11},
             "encoding": {"text": {"field": "t"}}},
            {"data": {"name": "ewTicksV"},
             "mark": {"type": "rule", "strokeWidth": 1.5, "color": "black"},
             "encoding": {"y2": {"field": "y2"}}},
            {"data": {"name": "ewTicksH"},
             "mark": {"type": "rule", "strokeWidth": 1.5, "color": "black"},
             "encoding": {"x2": {"field": "x2"}}}
          ]
        }
      ]
    },
    {
      "width": 444,
      "height": 417,
      "title": {"text": "(b) Slepton Run 1 limit", "orient": "bottom", "anchor": "middle", "frame": "group",
                "font": "DejaVu Serif", "fontSize": 24, "fontWeight": "normal", "color": "black", "offset": 31, "dx": -13},
      "encoding": {
        "x": {"field": "x", "type": "quantitative", "scale": {"domain": [90, 400], "nice": false, "zero": false},
              "axis": {"orient": "bottom", "values": [100, 150, 200, 250, 300, 350, 400],
                       "labelPadding": 6, "labelFontSize": 19,
                       "title": "mₗ̃± [GeV]", "titleFontSize": 19, "titleAnchor": "end", "titlePadding": 6}},
        "y": {"field": "y", "type": "quantitative", "scale": {"domain": [0, 350], "nice": false, "zero": false},
              "axis": {"orient": "left", "values": [0, 50, 100, 150, 200, 250, 300, 350],
                       "labelPadding": 7, "labelFontSize": 19,
                       "title": "mᵪ̃₁⁰ [GeV]", "titleFontSize": 18, "titleAnchor": "end", "titlePadding": 13}}
      },
      "layer": [
        {"data": {"name": "slRegions"}, "transform": [{"filter": "datum.s === 'band'"}],
         "mark": {"type": "line", "color": "#fde83a", "fill": "#fde83a", "strokeWidth": 0.5},
         "encoding": {"order": {"value": null}}},
        {"data": {"name": "slRegions"}, "transform": [{"filter": "datum.s === 'lep'"}],
         "mark": {"type": "line", "color": "#ff6633", "fill": "#ff6633", "strokeWidth": 0.5},
         "encoding": {"order": {"value": null}}},
        {"data": {"name": "sl"}, "transform": [{"filter": "datum.s === 'kin'"}],
         "mark": {"type": "line", "color": "black", "strokeWidth": 1.2, "strokeDash": [16, 8]},
         "encoding": {"order": {"value": null}}},
        {"data": {"name": "sl"}, "transform": [{"filter": "datum.s === 'exp'"}],
         "mark": {"type": "line", "color": "#2e3a50", "strokeWidth": 1.4, "strokeDash": [4, 3]},
         "encoding": {"order": {"value": null}}},
        {"data": {"name": "sl"}, "transform": [{"filter": "datum.s === 'thUp' || datum.s === 'thDn'"}],
         "mark": {"type": "line", "color": "#cc2222", "strokeWidth": 1.1, "strokeDash": [1.2, 1.8]},
         "encoding": {"detail": {"field": "s"}, "order": {"value": null}}},
        {"data": {"name": "sl"}, "transform": [{"filter": "datum.s === 'obs'"}],
         "mark": {"type": "line", "color": "#b00000", "strokeWidth": 3.5},
         "encoding": {"order": {"value": null}}},
        {"data": {"values": [{"t": "m(l̃±) < m(χ̃₁⁰)", "x": 147.7, "y": 171.5}]},
         "mark": {"type": "text", "angle": -40, "fontSize": 12, "fontWeight": "bold"},
         "encoding": {"text": {"field": "t"}}},
        {"data": {"values": [{"t": "ATLAS", "x": 102.4, "y": 322.7}]},
         "mark": {"type": "text", "align": "left", "fontSize": 24, "fontWeight": "bold", "fontStyle": "italic"},
         "encoding": {"text": {"field": "t"}}},
        {"data": {"values": [{"t": "∫ Ldt = 20.3 fb⁻¹, √s = 8 TeV", "x": 100, "y": 297.5}]},
         "mark": {"type": "text", "align": "left", "fontSize": 13.5},
         "encoding": {"text": {"field": "t"}}},
        {"data": {"values": [{"t": "l̃L,R l̃L,R → l±χ̃₁⁰ l∓χ̃₁⁰", "x": 100, "y": 275}]},
         "mark": {"type": "text", "align": "left", "fontSize": 11, "fontWeight": "bold"},
         "encoding": {"text": {"field": "t"}}},
        {"data": {"values": [{"t": "All limits at 95% CL", "x": 240.2, "y": 255.5}]},
         "mark": {"type": "text", "align": "left", "fontSize": 11.5, "fontWeight": "bold"},
         "encoding": {"text": {"field": "t"}}},
        {"data": {"name": "slLegBoxes"}, "transform": [{"filter": "datum.s === 'band'"}],
         "mark": {"type": "rect", "color": "#fde83a"},
         "encoding": {"x2": {"field": "x2"}, "y2": {"field": "y2"}}},
        {"data": {"name": "slLegBoxes"}, "transform": [{"filter": "datum.s === 'lep'"}],
         "mark": {"type": "rect", "color": "#ff6633"},
         "encoding": {"x2": {"field": "x2"}, "y2": {"field": "y2"}}},
        {"data": {"name": "slLegLines"}, "transform": [{"filter": "datum.s === 'obs'"}],
         "mark": {"type": "rule", "color": "#b00000", "strokeWidth": 3.5},
         "encoding": {"x2": {"field": "x2"}}},
        {"data": {"name": "slLegLines"}, "transform": [{"filter": "datum.s === 'thUp' || datum.s === 'thDn'"}],
         "mark": {"type": "rule", "color": "#cc2222", "strokeWidth": 1.1, "strokeDash": [1.2, 1.8]},
         "encoding": {"x2": {"field": "x2"}}},
        {"data": {"name": "slLegLines"}, "transform": [{"filter": "datum.s === 'exp'"}],
         "mark": {"type": "rule", "color": "#2e3a50", "strokeWidth": 1.4, "strokeDash": [4, 3]},
         "encoding": {"x2": {"field": "x2"}}},
        {"data": {"name": "slLegText"},
         "mark": {"type": "text", "align": "left", "fontSize": 13.5},
         "encoding": {"text": {"field": "t"}}},
        {"data": {"name": "slLegScript"},
         "mark": {"type": "text", "align": "left", "fontSize": 9.5},
         "encoding": {"text": {"field": "t"}}},
        {"data": {"name": "slTicksV"},
         "mark": {"type": "rule", "strokeWidth": 1.5, "color": "black"},
         "encoding": {"y2": {"field": "y2"}}},
        {"data": {"name": "slTicksH"},
         "mark": {"type": "rule", "strokeWidth": 1.5, "color": "black"},
         "encoding": {"x2": {"field": "x2"}}}
      ]
    }
  ]
}
